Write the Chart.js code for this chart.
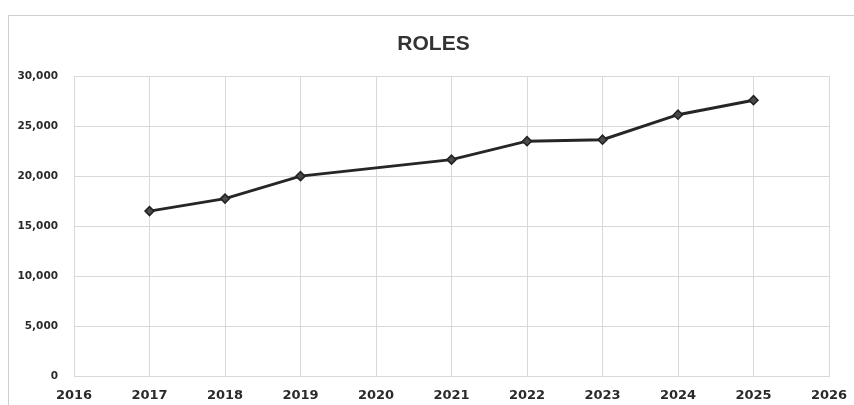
<!DOCTYPE html>
<html>
<head>
<meta charset="utf-8">
<script src="https://cdn.jsdelivr.net/npm/chart.js@4"></script>
<style>
  html, body { margin: 0; padding: 0; background: #fff; }
  #wrap { position: relative; width: 854px; height: 405px; }
  #frame { position: absolute; left: 8px; top: 15px; width: 860px; height: 400px;
           border-left: 1px solid #cfcfcf; border-top: 1px solid #cfcfcf; }
  canvas { position: absolute; left: 0; top: 0; }
</style>
</head>
<body>
<div id="wrap">
  <div id="frame"></div>
  <canvas id="canvas" width="854" height="405"></canvas>
</div>
<script>
// years on the axis (2020 has no marker)
const years = ['2016', '2017', '2018', '2019', '2020', '2021', '2022', '2023', '2024', '2025', '2026'];
const roles = [null, 16500, 17750, 20000, null, 21650, 23500, 23650, 26150, 27600, null];
const yMin = 0;
const yMax = 30000;
const yStep = 5000;

const gridColor = '#d9d9d9';

// the scan's title sits a bit right of the canvas centre
const nudgeTitle = {
  id: 'nudgeTitle',
  afterLayout(chart) {
    const t = chart.titleBlock;
    if (t) { t.left += 19; t.right += 19; }
  }
};

new Chart(document.getElementById('canvas').getContext('2d'), {
  type: 'line',
  data: {
    labels: years,
    datasets: [{
      label: 'Roles',
      data: roles,
      spanGaps: true,
      borderColor: '#262626',
      borderWidth: 3,
      pointStyle: 'rectRot',
      pointRadius: 4.5,
      pointBackgroundColor: '#4a4a4a',
      pointBorderColor: '#222',
      pointBorderWidth: 1.5,
      tension: 0
    }]
  },
  options: {
    responsive: false,
    animation: false,
    layout: { padding: { left: 0, right: 25, top: 0, bottom: 0 } },
    plugins: {
      legend: { display: false },
      tooltip: { enabled: false },
      title: {
        display: true,
        text: 'ROLES',
        color: '#333',
        font: { family: 'Liberation Sans', size: 21, weight: 'bold' },
        padding: { top: 32, bottom: 19 }
      }
    },
    scales: {
      x: {
        offset: false,
        grid: { color: gridColor, drawTicks: false },
        border: { color: gridColor },
        ticks: {
          color: '#2a2a2a',
          padding: 12,
          maxRotation: 0,
          autoSkip: false,
          font: { family: 'DejaVu Sans', size: 13, weight: 'bold' }
        },
        afterFit: s => { s.height = 29; s.paddingLeft = 0; s.paddingRight = 0; }
      },
      y: {
        min: yMin,
        max: yMax,
        grid: { color: gridColor, drawTicks: false },
        border: { color: gridColor },
        ticks: {
          stepSize: yStep,
          color: '#2a2a2a',
          padding: 16,
          font: { family: 'DejaVu Sans', size: 10.5, weight: 'bold' },
          callback: v => v.toLocaleString('en-US')
        },
        afterFit: s => { s.width = 74; s.paddingTop = 0; s.paddingBottom = 0; }
      }
    }
  },
  plugins: [nudgeTitle]
});
</script>
</body>
</html>
